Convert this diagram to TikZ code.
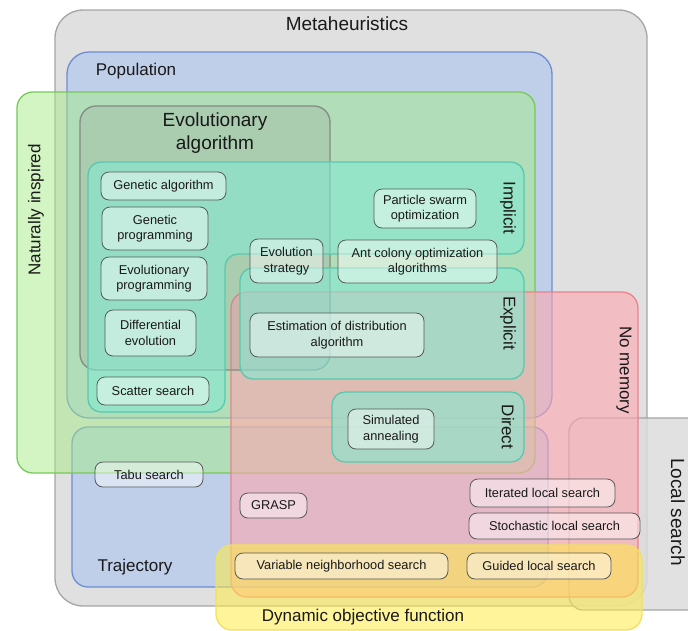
\documentclass[tikz,border=0pt]{standalone}
\usepackage{fontspec}
\setmainfont{Liberation Sans}

\definecolor{metafill}{RGB}{224,224,224}
\definecolor{metaline}{RGB}{165,165,165}
\definecolor{popfill}{RGB}{170,196,242}
\definecolor{popline}{RGB}{110,140,210}
\definecolor{natfill}{RGB}{165,235,135}
\definecolor{natline}{RGB}{120,200,90}
\definecolor{evofill}{RGB}{150,155,150}
\definecolor{evoline}{RGB}{130,140,130}
\definecolor{tealfill}{RGB}{132,233,210}
\definecolor{tealline}{RGB}{90,200,175}
\definecolor{memfill}{RGB}{254,167,176}
\definecolor{memline}{RGB}{235,130,140}
\definecolor{dynfill}{RGB}{255,235,70}
\definecolor{dynline}{RGB}{240,225,90}
\definecolor{itemline}{RGB}{85,90,90}
\definecolor{labeltext}{RGB}{25,25,25}

\begin{document}
\begin{tikzpicture}[x=1pt, y=-1pt,
  region/.style={rounded corners=16pt, line width=1.3pt},
  item/.style={draw=itemline, line width=0.8pt, rounded corners=8pt, fill=white,
    fill opacity=0.45, text opacity=1, text=labeltext,
    font=\fontsize{12.8}{15.5}\selectfont, align=center, inner sep=0pt},
  setlabel/.style={font=\fontsize{17}{21}\selectfont, text=labeltext, align=center},
  biglabel/.style={font=\fontsize{19}{23}\selectfont, text=labeltext, align=center}]

\useasboundingbox (0,0) rectangle (688,630);

% sets
\draw[region, rounded corners=28pt, fill=metafill, draw=metaline] (55,10) rectangle (647,606);
\draw[region, rounded corners=14pt, fill=metafill!98!black, fill opacity=0.85, draw=metaline] (569,418) rectangle (702,610);
\draw[region, rounded corners=22pt, fill=popfill, fill opacity=0.6, draw=popline] (67,52) rectangle (552,418);
\draw[region, fill=popfill, fill opacity=0.6, draw=popline] (72,427) rectangle (548,587);
\draw[region, fill=natfill, fill opacity=0.5, draw=natline] (17,92) rectangle (535,473);
\draw[region, fill=memfill, fill opacity=0.6, draw=memline] (231,292) rectangle (638,597);
\draw[region, fill=evofill, fill opacity=0.25, draw=evoline] (80,106) rectangle (330,370);
\draw[region, rounded corners=13pt, fill=tealfill, fill opacity=0.6, draw=tealline]
  (88,162) -- (524,162) -- (524,254) -- (225,254) -- (225,412) -- (88,412) -- cycle;
\draw[region, rounded corners=13pt, fill=tealfill, fill opacity=0.6, draw=tealline] (240,268) rectangle (524,379);
\draw[region, rounded corners=13pt, fill=tealfill, fill opacity=0.6, draw=tealline] (332,392) rectangle (524,462);
\draw[region, fill=dynfill, fill opacity=0.55, draw=dynline] (216,545) rectangle (642,630);

% set labels
\node[biglabel] (metaLabel) at (347,24) {Metaheuristics};
\node[setlabel] (popLabel) at (136,71) {Population};
\node[setlabel] (trajLabel) at (135,567) {Trajectory};
\node[biglabel] (evoLabel) at (215,133) {Evolutionary\\algorithm};
\node[setlabel, rotate=90] (natLabel) at (36,210) {Naturally inspired};
\node[setlabel, rotate=-90] (implLabel) at (508,208) {Implicit};
\node[setlabel, rotate=-90] (explLabel) at (508,323) {Explicit};
\node[setlabel, rotate=-90] (dirLabel) at (508,427) {Direct};
\node[setlabel, rotate=-90] (memLabel) at (624,370) {No memory};
\node[biglabel, rotate=-90] (lsLabel) at (678,512) {Local search};
\node[setlabel] (dynLabel) at (363,617) {Dynamic objective function};

% methods
\node[item, minimum width=125pt, minimum height=28pt] (ga) at (163.5,186) {Genetic algorithm};
\node[item, minimum width=106pt, minimum height=43pt] (gp) at (155,228.5) {Genetic\\programming};
\node[item, minimum width=106pt, minimum height=43pt] (ep) at (154,278.5) {Evolutionary\\programming};
\node[item, minimum width=91pt, minimum height=46pt] (de) at (150.5,333) {Differential\\evolution};
\node[item, minimum width=112pt, minimum height=28pt] (ss) at (153,391) {Scatter search};
\node[item, minimum width=102pt, minimum height=39pt] (pso) at (425,208.5) {Particle swarm\\optimization};
\node[item, minimum width=73pt, minimum height=44pt] (es) at (286.5,261) {Evolution\\strategy};
\node[item, minimum width=159pt, minimum height=43pt] (aco) at (417.5,261.5) {Ant colony optimization\\algorithms};
\node[item, minimum width=174pt, minimum height=44pt] (eda) at (337,335) {Estimation of distribution\\algorithm};
\node[item, minimum width=86pt, minimum height=40pt] (sa) at (391,429) {Simulated\\annealing};
\node[item, minimum width=108pt, minimum height=25pt] (tabu) at (149,474.5) {Tabu search};
\node[item, minimum width=67pt, minimum height=25pt] (grasp) at (273.5,505.5) {GRASP};
\node[item, minimum width=145pt, minimum height=28pt] (ils) at (542.5,493) {Iterated local search};
\node[item, minimum width=171pt, minimum height=26pt] (sls) at (554.5,526) {Stochastic local search};
\node[item, minimum width=213pt, minimum height=26pt] (vns) at (341.5,566) {Variable neighborhood search};
\node[item, minimum width=144pt, minimum height=26pt] (gls) at (539,566) {Guided local search};
\end{tikzpicture}
\end{document}
